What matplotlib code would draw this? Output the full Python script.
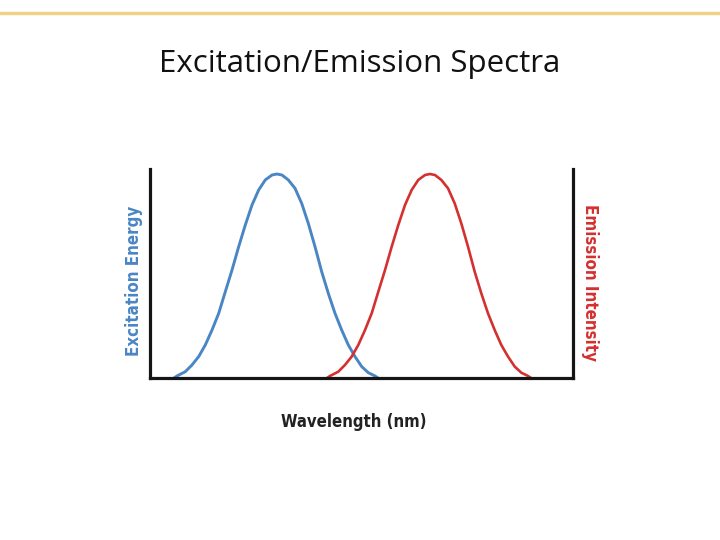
import matplotlib
matplotlib.use("Agg")
import matplotlib.pyplot as plt
from matplotlib.lines import Line2D

# Excitation (blue) curve (x in arbitrary wavelength units)
exc_x = [24, 27, 35.3, 42, 48.7, 55.3, 62, 68.7, 75.3, 82, 88.7, 95.3, 102, 108.7, 115.3, 122, 127,
         132, 138.3, 145, 151.7, 158.3, 165, 171.7, 178.3, 185, 191.7, 198.3, 205, 211.7, 218.3, 225, 228]
exc_y = [0.0, 0.01, 0.031, 0.064, 0.105, 0.162, 0.235, 0.317, 0.423, 0.529, 0.644, 0.750, 0.848,
         0.922, 0.971, 0.995, 1.0,
         0.995, 0.971, 0.930, 0.856, 0.758, 0.644, 0.521, 0.415, 0.317, 0.235, 0.162, 0.105,
         0.056, 0.026, 0.01, 0.0]

# Emission (red) curve
emi_x = [177, 180, 188.3, 195, 201.7, 208.3, 215, 221.7, 228.3, 235, 241.7, 248.3, 255, 261.7,
         268.3, 275, 280,
         285, 291.3, 298, 304.7, 311.3, 318, 324.7, 331.3, 338, 344.7, 351.3, 358, 364.7, 371.3, 378, 381]
emi_y = [0.0, 0.01, 0.031, 0.064, 0.105, 0.162, 0.235, 0.317, 0.423, 0.529, 0.644, 0.750, 0.848,
         0.922, 0.971, 0.995, 1.0,
         0.995, 0.971, 0.930, 0.856, 0.758, 0.644, 0.521, 0.415, 0.317, 0.235, 0.162, 0.105,
         0.056, 0.026, 0.01, 0.0]

title = "Excitation/Emission Spectra"
xlabel = "Wavelength (nm)"
ylabel_left = "Excitation Energy"
ylabel_right = "Emission Intensity"

BLUE = "#4a86c4"
RED = "#d3302f"
COND = dict(family="DejaVu Sans", fontstretch="condensed", fontweight="bold")

fig = plt.figure(figsize=(7.2, 5.4), dpi=100)
fig.patch.set_facecolor("white")

# top decorative line
fig.add_artist(Line2D([0, 1], [1 - 12.5 / 540, 1 - 12.5 / 540], transform=fig.transFigure,
                      color="#efd18a", linewidth=2.5))

fig.text(360 / 720, 1 - 72 / 540, title, ha="center", va="baseline",
         fontsize=22.5, family=["Open Sans", "DejaVu Sans"], color="#111111")

ax = fig.add_axes([150 / 720, 1 - 378 / 540, (573 - 150) / 720, (378 - 169) / 540])
ax.plot(exc_x, exc_y, color=BLUE, linewidth=2.1, solid_capstyle="round", solid_joinstyle="round")
ax.plot(emi_x, emi_y, color=RED, linewidth=1.9, solid_capstyle="round", solid_joinstyle="round")
ax.set_xlim(0, 423)
ax.set_ylim(0, (378 - 169) / 204)
ax.set_xticks([])
ax.set_yticks([])
ax.spines["top"].set_visible(False)
for s in ["left", "right", "bottom"]:
    ax.spines[s].set_linewidth(2.3)
    ax.spines[s].set_color("#151515")

fig.text(134 / 720, 1 - 281 / 540, ylabel_left, rotation=90, ha="center", va="center",
         fontsize=12.2, color=BLUE, **COND)
fig.text(590 / 720, 1 - 282 / 540, ylabel_right, rotation=-90, ha="center", va="center",
         fontsize=12.2, color=RED, **COND)
fig.text(354 / 720, 1 - 422 / 540, xlabel, ha="center", va="center",
         fontsize=12, color="#222222", **COND)

fig.savefig("out.png", dpi=100, facecolor="white")
